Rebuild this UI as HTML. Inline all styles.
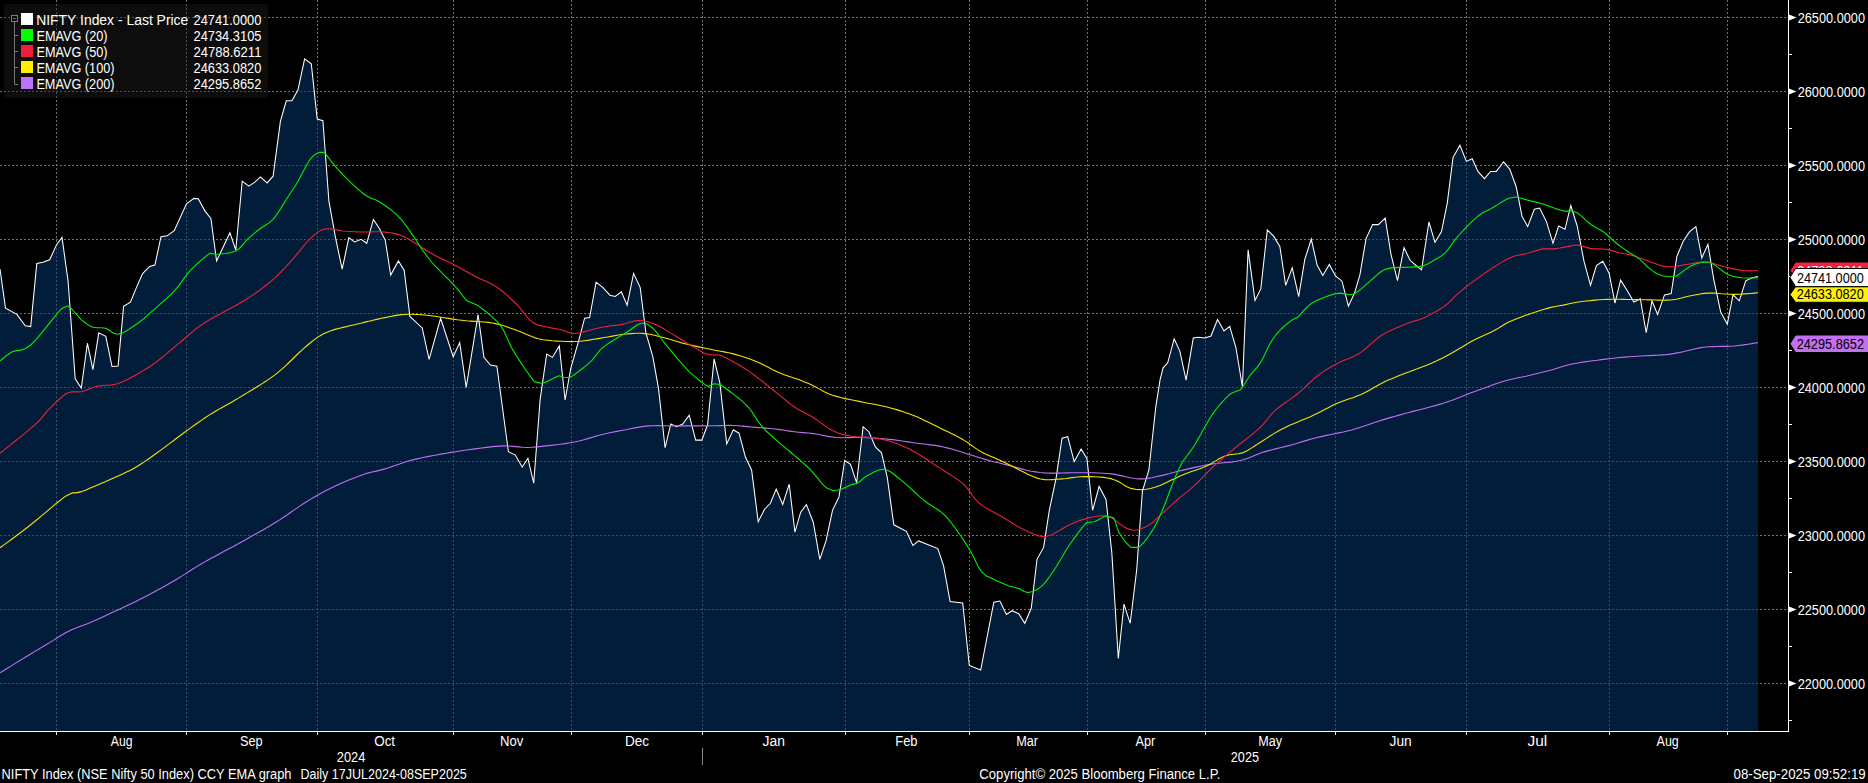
<!DOCTYPE html><html><head><meta charset="utf-8"><style>
html,body{margin:0;padding:0;background:#000;width:1868px;height:783px;overflow:hidden}
svg{display:block}
text{font-family:"Liberation Sans", sans-serif;font-size:14px;fill:#fff}
</style></head><body>
<svg width="1868" height="783" viewBox="0 0 1868 783">
<rect x="0" y="0" width="1868" height="783" fill="#000"/>
<line x1="56.5" y1="0" x2="56.5" y2="731" stroke="#727272" stroke-width="1" stroke-dasharray="2 2"/>
<line x1="186.5" y1="0" x2="186.5" y2="731" stroke="#727272" stroke-width="1" stroke-dasharray="2 2"/>
<line x1="317.5" y1="0" x2="317.5" y2="731" stroke="#727272" stroke-width="1" stroke-dasharray="2 2"/>
<line x1="453.5" y1="0" x2="453.5" y2="731" stroke="#727272" stroke-width="1" stroke-dasharray="2 2"/>
<line x1="571.5" y1="0" x2="571.5" y2="731" stroke="#727272" stroke-width="1" stroke-dasharray="2 2"/>
<line x1="702.5" y1="0" x2="702.5" y2="731" stroke="#727272" stroke-width="1" stroke-dasharray="2 2"/>
<line x1="845.5" y1="0" x2="845.5" y2="731" stroke="#727272" stroke-width="1" stroke-dasharray="2 2"/>
<line x1="969.5" y1="0" x2="969.5" y2="731" stroke="#727272" stroke-width="1" stroke-dasharray="2 2"/>
<line x1="1087.5" y1="0" x2="1087.5" y2="731" stroke="#727272" stroke-width="1" stroke-dasharray="2 2"/>
<line x1="1205.5" y1="0" x2="1205.5" y2="731" stroke="#727272" stroke-width="1" stroke-dasharray="2 2"/>
<line x1="1335.5" y1="0" x2="1335.5" y2="731" stroke="#727272" stroke-width="1" stroke-dasharray="2 2"/>
<line x1="1466.5" y1="0" x2="1466.5" y2="731" stroke="#727272" stroke-width="1" stroke-dasharray="2 2"/>
<line x1="1609.5" y1="0" x2="1609.5" y2="731" stroke="#727272" stroke-width="1" stroke-dasharray="2 2"/>
<line x1="1727.5" y1="0" x2="1727.5" y2="731" stroke="#727272" stroke-width="1" stroke-dasharray="2 2"/>
<line x1="0" y1="17.5" x2="1788" y2="17.5" stroke="#727272" stroke-width="1" stroke-dasharray="2 2"/>
<line x1="0" y1="91.5" x2="1788" y2="91.5" stroke="#727272" stroke-width="1" stroke-dasharray="2 2"/>
<line x1="0" y1="165.5" x2="1788" y2="165.5" stroke="#727272" stroke-width="1" stroke-dasharray="2 2"/>
<line x1="0" y1="239.5" x2="1788" y2="239.5" stroke="#727272" stroke-width="1" stroke-dasharray="2 2"/>
<line x1="0" y1="313.5" x2="1788" y2="313.5" stroke="#727272" stroke-width="1" stroke-dasharray="2 2"/>
<line x1="0" y1="387.5" x2="1788" y2="387.5" stroke="#727272" stroke-width="1" stroke-dasharray="2 2"/>
<line x1="0" y1="461.5" x2="1788" y2="461.5" stroke="#727272" stroke-width="1" stroke-dasharray="2 2"/>
<line x1="0" y1="535.5" x2="1788" y2="535.5" stroke="#727272" stroke-width="1" stroke-dasharray="2 2"/>
<line x1="0" y1="609.5" x2="1788" y2="609.5" stroke="#727272" stroke-width="1" stroke-dasharray="2 2"/>
<line x1="0" y1="683.5" x2="1788" y2="683.5" stroke="#727272" stroke-width="1" stroke-dasharray="2 2"/>
<polygon points="0.0,731.0 0.0,269.0 5.5,308.2 16.9,314.4 25.2,325.7 30.7,326.6 36.8,263.4 42.9,262.2 49.7,259.8 56.7,244.4 62.0,237.4 68.1,281.2 75.2,378.8 81.3,388.0 87.4,343.2 92.9,369.6 98.8,332.8 105.8,336.4 112.0,366.5 118.1,365.9 123.6,306.4 130.4,302.1 136.5,287.4 142.6,273.6 149.7,266.5 154.9,265.0 161.0,236.7 167.2,235.8 174.2,230.6 186.5,203.9 193.9,198.4 198.3,198.8 205.0,211.1 210.9,218.4 216.6,260.9 223.2,247.0 229.9,232.7 235.8,250.0 242.2,181.2 248.8,186.2 254.8,182.2 260.4,176.9 267.1,182.9 273.1,176.2 280.4,121.4 286.3,100.8 292.0,100.8 298.0,89.8 304.6,58.9 311.3,63.9 317.2,119.1 322.9,120.7 328.9,201.1 335.5,237.7 342.2,269.2 348.8,237.7 354.5,242.0 361.1,239.3 366.7,243.3 373.4,219.4 379.4,228.4 385.3,240.3 390.7,275.1 398.4,260.9 404.2,270.5 409.9,316.4 422.2,327.9 429.1,359.3 440.6,318.4 453.2,356.7 459.7,342.5 466.2,387.3 478.1,314.5 483.9,357.4 490.4,365.1 496.9,366.2 508.4,451.7 515.3,455.1 522.2,467.0 527.9,458.2 533.7,483.1 540.2,398.8 546.7,354.0 552.4,357.4 559.3,345.9 565.1,400.0 570.8,368.2 578.5,341.3 584.6,318.2 589.6,317.5 596.1,282.2 603.0,287.6 609.9,295.2 615.2,296.4 621.4,291.8 627.1,305.2 633.6,273.4 640.2,287.6 645.9,332.8 652.8,356.6 658.5,388.4 665.1,447.7 670.8,424.0 676.6,426.7 682.7,424.0 689.2,415.2 695.7,440.1 701.8,440.1 707.6,424.8 714.1,358.9 719.8,382.6 726.7,443.9 733.3,429.7 739.0,433.2 745.5,457.3 751.6,470.0 758.2,521.7 764.7,509.0 770.4,503.3 776.2,489.1 782.7,504.5 789.2,484.2 794.9,532.1 800.7,512.2 806.4,504.5 813.3,522.5 819.8,559.3 826.0,540.9 832.5,510.3 839.0,496.9 844.7,460.5 850.5,464.3 856.6,482.7 863.1,426.7 868.9,431.7 875.4,447.0 881.5,452.8 887.3,477.7 893.8,524.8 906.4,531.3 912.9,545.5 918.7,540.9 937.8,548.6 943.6,565.8 950.1,601.5 962.7,603.0 969.3,665.4 980.7,670.0 993.8,602.2 999.9,601.1 1006.4,614.5 1012.1,610.7 1018.7,613.7 1024.8,623.3 1031.3,608.0 1037.0,559.3 1043.6,547.4 1049.3,510.3 1056.2,477.7 1062.0,438.2 1067.7,436.7 1074.2,461.6 1081.1,449.0 1086.9,458.5 1092.6,510.3 1099.1,486.5 1106.0,499.5 1111.8,552.4 1118.3,658.5 1124.0,604.1 1130.2,623.3 1136.7,569.7 1142.4,491.1 1148.9,470.0 1155.8,406.8 1160.0,380.1 1163.1,367.8 1167.7,362.8 1174.2,338.7 1179.9,351.3 1186.1,380.1 1193.3,337.9 1198.3,337.2 1204.8,337.9 1211.0,336.0 1217.5,319.5 1224.0,331.0 1229.7,326.4 1235.9,347.5 1242.4,386.6 1248.1,249.8 1255.0,300.4 1260.8,288.9 1267.3,229.9 1273.8,236.4 1279.9,246.7 1285.7,285.4 1292.2,267.8 1298.7,296.6 1304.8,259.4 1311.3,239.1 1317.1,265.1 1322.8,275.5 1329.3,264.4 1335.5,275.9 1342.0,281.2 1348.4,306.2 1354.6,292.8 1359.9,274.8 1366.1,238.4 1372.6,224.6 1378.3,224.6 1385.2,218.1 1391.0,254.5 1397.5,280.6 1404.0,247.6 1410.1,260.3 1416.6,266.0 1421.6,269.8 1428.9,222.0 1435.0,242.3 1441.5,231.5 1447.3,202.8 1453.0,157.6 1459.9,145.3 1466.4,161.4 1472.2,158.7 1477.9,171.4 1484.4,178.7 1490.6,171.4 1496.3,171.4 1503.6,161.8 1509.7,169.1 1516.2,186.7 1522.0,216.2 1527.7,226.6 1534.3,209.3 1539.7,208.1 1546.6,222.1 1553.0,243.3 1558.6,226.0 1565.0,229.3 1570.8,205.5 1577.2,226.0 1584.1,261.7 1590.5,285.4 1596.4,265.5 1602.8,261.2 1609.1,273.2 1615.0,303.1 1620.6,280.1 1627.0,290.3 1633.9,302.0 1640.3,298.7 1646.2,332.7 1652.0,300.8 1657.6,314.5 1664.5,294.9 1671.2,293.6 1676.8,256.6 1683.2,241.3 1689.6,231.6 1695.9,226.7 1701.8,257.9 1707.9,244.3 1713.8,279.6 1720.7,312.0 1727.3,324.2 1733.0,294.9 1739.3,300.8 1745.7,280.8 1752.1,277.8 1758.0,276.5 1758.0,731.0" fill="rgb(2,53,105)" fill-opacity="0.55"/>
<rect x="4" y="4" width="264" height="94" rx="2" ry="2" fill="rgb(32,32,32)" fill-opacity="0.42"/>
<polyline points="0.0,269.0 5.5,308.2 16.9,314.4 25.2,325.7 30.7,326.6 36.8,263.4 42.9,262.2 49.7,259.8 56.7,244.4 62.0,237.4 68.1,281.2 75.2,378.8 81.3,388.0 87.4,343.2 92.9,369.6 98.8,332.8 105.8,336.4 112.0,366.5 118.1,365.9 123.6,306.4 130.4,302.1 136.5,287.4 142.6,273.6 149.7,266.5 154.9,265.0 161.0,236.7 167.2,235.8 174.2,230.6 186.5,203.9 193.9,198.4 198.3,198.8 205.0,211.1 210.9,218.4 216.6,260.9 223.2,247.0 229.9,232.7 235.8,250.0 242.2,181.2 248.8,186.2 254.8,182.2 260.4,176.9 267.1,182.9 273.1,176.2 280.4,121.4 286.3,100.8 292.0,100.8 298.0,89.8 304.6,58.9 311.3,63.9 317.2,119.1 322.9,120.7 328.9,201.1 335.5,237.7 342.2,269.2 348.8,237.7 354.5,242.0 361.1,239.3 366.7,243.3 373.4,219.4 379.4,228.4 385.3,240.3 390.7,275.1 398.4,260.9 404.2,270.5 409.9,316.4 422.2,327.9 429.1,359.3 440.6,318.4 453.2,356.7 459.7,342.5 466.2,387.3 478.1,314.5 483.9,357.4 490.4,365.1 496.9,366.2 508.4,451.7 515.3,455.1 522.2,467.0 527.9,458.2 533.7,483.1 540.2,398.8 546.7,354.0 552.4,357.4 559.3,345.9 565.1,400.0 570.8,368.2 578.5,341.3 584.6,318.2 589.6,317.5 596.1,282.2 603.0,287.6 609.9,295.2 615.2,296.4 621.4,291.8 627.1,305.2 633.6,273.4 640.2,287.6 645.9,332.8 652.8,356.6 658.5,388.4 665.1,447.7 670.8,424.0 676.6,426.7 682.7,424.0 689.2,415.2 695.7,440.1 701.8,440.1 707.6,424.8 714.1,358.9 719.8,382.6 726.7,443.9 733.3,429.7 739.0,433.2 745.5,457.3 751.6,470.0 758.2,521.7 764.7,509.0 770.4,503.3 776.2,489.1 782.7,504.5 789.2,484.2 794.9,532.1 800.7,512.2 806.4,504.5 813.3,522.5 819.8,559.3 826.0,540.9 832.5,510.3 839.0,496.9 844.7,460.5 850.5,464.3 856.6,482.7 863.1,426.7 868.9,431.7 875.4,447.0 881.5,452.8 887.3,477.7 893.8,524.8 906.4,531.3 912.9,545.5 918.7,540.9 937.8,548.6 943.6,565.8 950.1,601.5 962.7,603.0 969.3,665.4 980.7,670.0 993.8,602.2 999.9,601.1 1006.4,614.5 1012.1,610.7 1018.7,613.7 1024.8,623.3 1031.3,608.0 1037.0,559.3 1043.6,547.4 1049.3,510.3 1056.2,477.7 1062.0,438.2 1067.7,436.7 1074.2,461.6 1081.1,449.0 1086.9,458.5 1092.6,510.3 1099.1,486.5 1106.0,499.5 1111.8,552.4 1118.3,658.5 1124.0,604.1 1130.2,623.3 1136.7,569.7 1142.4,491.1 1148.9,470.0 1155.8,406.8 1160.0,380.1 1163.1,367.8 1167.7,362.8 1174.2,338.7 1179.9,351.3 1186.1,380.1 1193.3,337.9 1198.3,337.2 1204.8,337.9 1211.0,336.0 1217.5,319.5 1224.0,331.0 1229.7,326.4 1235.9,347.5 1242.4,386.6 1248.1,249.8 1255.0,300.4 1260.8,288.9 1267.3,229.9 1273.8,236.4 1279.9,246.7 1285.7,285.4 1292.2,267.8 1298.7,296.6 1304.8,259.4 1311.3,239.1 1317.1,265.1 1322.8,275.5 1329.3,264.4 1335.5,275.9 1342.0,281.2 1348.4,306.2 1354.6,292.8 1359.9,274.8 1366.1,238.4 1372.6,224.6 1378.3,224.6 1385.2,218.1 1391.0,254.5 1397.5,280.6 1404.0,247.6 1410.1,260.3 1416.6,266.0 1421.6,269.8 1428.9,222.0 1435.0,242.3 1441.5,231.5 1447.3,202.8 1453.0,157.6 1459.9,145.3 1466.4,161.4 1472.2,158.7 1477.9,171.4 1484.4,178.7 1490.6,171.4 1496.3,171.4 1503.6,161.8 1509.7,169.1 1516.2,186.7 1522.0,216.2 1527.7,226.6 1534.3,209.3 1539.7,208.1 1546.6,222.1 1553.0,243.3 1558.6,226.0 1565.0,229.3 1570.8,205.5 1577.2,226.0 1584.1,261.7 1590.5,285.4 1596.4,265.5 1602.8,261.2 1609.1,273.2 1615.0,303.1 1620.6,280.1 1627.0,290.3 1633.9,302.0 1640.3,298.7 1646.2,332.7 1652.0,300.8 1657.6,314.5 1664.5,294.9 1671.2,293.6 1676.8,256.6 1683.2,241.3 1689.6,231.6 1695.9,226.7 1701.8,257.9 1707.9,244.3 1713.8,279.6 1720.7,312.0 1727.3,324.2 1733.0,294.9 1739.3,300.8 1745.7,280.8 1752.1,277.8 1758.0,276.5" fill="none" stroke="#fff" stroke-width="1.05" stroke-linejoin="miter"/>
<polyline points="0.0,672.9 2.2,671.5 5.1,669.7 8.6,667.5 12.5,665.1 16.5,662.6 20.4,660.2 23.8,658.1 27.4,656.0 31.1,653.7 34.9,651.4 38.7,649.2 42.4,646.9 46.0,644.8 50.0,642.4 53.9,639.9 57.7,637.5 61.4,635.2 65.2,633.0 69.0,631.0 72.8,629.2 76.6,627.7 80.3,626.3 84.1,624.9 88.0,623.4 92.0,621.8 95.5,620.3 99.1,618.7 102.8,617.0 106.4,615.3 110.1,613.6 113.8,611.8 117.5,610.1 121.1,608.4 124.6,606.8 128.2,605.1 131.7,603.4 135.3,601.7 139.1,599.8 143.0,597.8 146.6,595.9 150.3,594.0 154.1,591.9 158.0,589.8 162.0,587.7 165.9,585.5 169.8,583.2 173.7,581.0 177.5,578.7 181.2,576.4 185.0,574.1 188.7,571.7 192.4,569.3 196.3,566.9 200.2,564.5 204.3,562.1 207.7,560.2 211.1,558.3 214.7,556.4 218.2,554.4 221.9,552.5 225.5,550.6 229.2,548.6 232.9,546.7 236.5,544.7 240.1,542.7 243.7,540.7 247.3,538.7 251.0,536.6 254.7,534.6 258.3,532.5 262.0,530.4 265.5,528.4 269.1,526.3 272.5,524.3 275.9,522.2 279.6,519.9 283.1,517.5 286.7,515.2 290.1,512.8 293.5,510.4 296.9,508.1 300.1,505.9 303.3,503.8 306.5,501.8 310.4,499.4 314.0,497.2 317.6,495.2 321.0,493.2 324.6,491.3 328.2,489.4 332.1,487.5 335.7,485.8 339.6,484.0 343.6,482.3 347.6,480.6 351.6,478.9 355.5,477.4 359.2,476.0 362.7,474.7 367.6,473.1 372.0,472.0 376.2,471.1 380.4,470.1 385.0,468.9 388.5,467.8 392.1,466.5 395.8,465.2 399.5,463.9 403.5,462.6 407.5,461.3 411.8,460.1 415.8,459.1 420.0,458.2 424.3,457.3 428.8,456.4 433.3,455.5 437.8,454.7 442.1,453.9 446.3,453.2 450.9,452.4 455.5,451.7 459.9,451.0 464.3,450.3 468.6,449.7 472.9,449.1 477.0,448.6 481.7,448.0 486.4,447.4 490.9,446.9 495.3,446.4 499.6,446.1 503.8,445.9 508.7,446.0 513.5,446.4 518.1,446.9 522.5,447.3 526.8,447.5 531.9,447.3 536.6,446.9 541.3,446.4 546.0,445.9 550.9,445.4 555.8,444.8 560.6,444.2 565.1,443.6 570.1,442.8 574.6,442.0 580.0,440.8 584.1,439.7 588.6,438.4 593.4,436.9 598.3,435.5 603.0,434.3 607.6,433.2 612.2,432.3 616.8,431.4 621.4,430.5 626.0,429.7 630.5,428.8 634.8,427.9 639.3,427.1 643.9,426.4 649.0,425.9 653.0,425.7 657.3,425.6 661.8,425.6 666.4,425.7 670.9,425.8 675.4,425.9 679.6,425.9 684.3,425.9 688.8,425.9 693.2,425.9 697.6,425.9 702.0,425.9 706.4,425.9 710.9,425.8 715.5,425.7 720.1,425.6 724.6,425.5 729.0,425.4 733.3,425.5 738.2,425.7 742.9,426.1 747.5,426.6 751.9,427.0 756.2,427.4 761.2,427.8 765.8,428.1 770.4,428.5 775.0,429.0 779.8,429.6 784.6,430.3 789.4,431.1 794.2,431.7 798.9,432.2 803.5,432.6 808.3,433.0 813.3,433.6 817.6,434.3 822.0,435.2 826.6,436.1 831.4,436.9 836.3,437.5 840.5,437.7 844.9,437.7 849.5,437.6 854.0,437.5 858.6,437.4 863.1,437.5 867.6,437.7 872.1,437.9 876.6,438.2 881.0,438.6 885.5,439.0 890.0,439.4 894.5,439.9 898.9,440.5 903.4,441.2 907.9,441.9 912.3,442.5 916.8,443.2 921.3,443.8 925.7,444.3 930.2,444.9 934.7,445.4 939.2,446.1 943.6,447.0 948.1,448.1 952.7,449.3 957.3,450.7 961.7,452.1 966.0,453.5 970.0,454.7 974.2,456.0 978.0,457.2 981.6,458.3 985.2,459.4 989.2,460.5 993.6,461.7 998.3,462.8 1003.0,464.0 1007.7,465.1 1012.1,466.2 1017.2,467.6 1021.9,468.9 1026.6,470.2 1031.3,471.2 1035.7,471.9 1039.9,472.5 1044.6,472.9 1050.5,473.1 1054.1,473.1 1058.2,473.1 1062.6,473.0 1067.2,472.9 1071.9,472.8 1076.5,472.7 1080.9,472.7 1084.9,472.7 1089.8,472.8 1094.4,472.8 1098.8,473.0 1103.1,473.2 1107.4,473.5 1111.8,473.9 1116.3,474.6 1120.9,475.6 1125.5,476.7 1130.1,477.7 1134.4,478.5 1138.6,478.9 1143.2,478.9 1147.5,478.4 1151.6,477.7 1155.7,476.8 1160.0,475.9 1164.4,474.9 1168.9,473.8 1173.4,472.5 1178.1,471.3 1183.0,470.1 1187.2,469.1 1191.5,468.1 1195.9,467.1 1200.4,466.2 1205.1,465.2 1209.8,464.4 1214.0,463.8 1218.5,463.3 1223.1,462.8 1227.7,462.4 1232.2,461.9 1236.5,461.3 1240.5,460.5 1244.7,459.3 1248.6,458.0 1252.2,456.5 1255.8,455.0 1259.4,453.5 1263.4,452.1 1267.7,450.9 1272.1,449.7 1276.6,448.6 1281.2,447.5 1285.8,446.4 1290.3,445.2 1294.7,444.0 1299.0,442.7 1303.2,441.4 1307.6,440.1 1312.2,438.8 1317.1,437.5 1321.1,436.6 1325.3,435.6 1329.8,434.7 1334.3,433.8 1338.8,432.9 1343.3,432.0 1347.5,431.0 1351.5,430.0 1355.7,428.8 1359.7,427.5 1363.5,426.3 1367.2,425.0 1370.9,423.7 1374.5,422.4 1378.3,421.2 1382.6,419.9 1386.8,418.6 1391.0,417.4 1395.3,416.2 1400.0,414.9 1405.1,413.5 1408.9,412.5 1413.0,411.4 1417.3,410.3 1421.8,409.2 1426.3,408.0 1430.8,406.8 1435.2,405.6 1439.4,404.4 1443.4,403.2 1447.6,401.8 1451.6,400.4 1455.5,398.9 1459.2,397.5 1462.9,396.0 1466.6,394.5 1470.3,393.1 1474.1,391.7 1478.0,390.3 1481.9,388.9 1485.9,387.4 1489.8,386.0 1493.7,384.6 1497.5,383.3 1501.2,382.1 1504.8,381.0 1509.4,379.8 1513.8,378.7 1518.0,377.8 1522.2,377.0 1526.1,376.2 1530.0,375.3 1534.3,374.3 1538.4,373.3 1542.3,372.3 1546.2,371.3 1550.4,370.2 1554.6,369.0 1558.8,367.7 1563.2,366.3 1567.9,365.0 1573.4,363.8 1576.9,363.2 1580.6,362.5 1584.6,361.9 1588.8,361.3 1593.1,360.7 1597.3,360.2 1601.4,359.6 1605.4,359.1 1609.1,358.7 1613.5,358.2 1617.5,357.8 1621.4,357.4 1625.2,357.1 1629.0,356.8 1633.0,356.5 1637.2,356.2 1641.1,356.0 1645.1,355.8 1649.3,355.6 1653.5,355.4 1657.7,355.2 1662.0,354.9 1666.2,354.6 1670.4,354.1 1674.6,353.4 1678.8,352.6 1683.0,351.7 1687.2,350.7 1691.3,349.7 1695.5,348.7 1699.6,347.9 1703.6,347.3 1708.2,346.8 1712.7,346.6 1717.3,346.5 1721.7,346.4 1726.0,346.4 1730.2,346.2 1734.2,346.0 1738.8,345.5 1743.5,344.9 1748.0,344.2 1752.1,343.6 1755.5,343.0 1758.0,342.6" fill="none" stroke="#c070f0" stroke-width="1.1" stroke-linejoin="round"/>
<polyline points="0.0,547.8 2.0,546.3 4.7,544.4 7.8,542.1 11.3,539.5 15.0,536.7 19.0,533.8 23.0,530.8 26.9,527.7 30.7,524.8 33.8,522.3 37.2,519.5 40.6,516.6 44.2,513.6 47.7,510.6 51.3,507.6 54.7,504.7 58.0,502.0 61.1,499.6 63.9,497.4 66.4,495.7 72.3,492.9 75.8,492.9 81.7,491.6 84.9,490.4 88.6,488.8 92.7,487.1 97.1,485.2 101.5,483.3 105.9,481.4 110.2,479.5 114.1,477.7 117.5,476.2 122.5,474.0 126.5,472.1 130.1,470.4 133.7,468.4 137.9,466.0 141.3,463.8 145.0,461.4 148.8,458.7 152.6,456.0 156.4,453.2 160.1,450.6 163.5,448.1 167.1,445.4 170.5,442.9 173.7,440.5 176.9,438.0 180.3,435.5 183.9,432.8 187.2,430.4 190.7,427.9 194.2,425.3 197.9,422.7 201.7,420.1 205.5,417.5 209.5,414.9 213.1,412.7 216.7,410.6 220.4,408.4 224.2,406.3 228.0,404.2 232.0,401.9 236.0,399.6 240.1,397.1 243.5,395.0 247.0,392.9 250.6,390.7 254.3,388.5 258.0,386.2 261.7,383.9 265.4,381.5 269.0,379.1 272.5,376.6 275.9,374.1 279.2,371.4 282.5,368.6 285.8,365.6 289.0,362.5 292.2,359.5 295.2,356.5 298.2,353.5 301.1,350.8 303.9,348.3 306.5,346.0 310.4,342.8 313.7,340.1 316.7,337.9 319.8,335.9 323.1,334.0 327.0,332.2 330.9,330.7 335.1,329.4 339.6,328.2 344.2,327.1 348.8,326.0 353.3,325.0 357.6,324.0 361.8,323.0 365.9,321.9 370.0,321.0 374.0,320.0 377.9,319.1 381.5,318.3 385.0,317.6 390.3,316.5 394.9,315.6 399.3,314.9 404.2,314.5 408.4,314.3 412.5,314.3 416.9,314.5 421.7,314.8 427.1,315.3 430.9,315.7 435.0,316.3 439.4,317.0 443.9,317.7 448.4,318.4 453.0,319.1 457.4,319.8 461.6,320.3 466.3,320.8 470.9,321.1 475.4,321.4 479.9,321.7 484.2,322.0 488.4,322.4 492.3,323.0 497.4,324.1 502.1,325.3 506.5,326.7 510.8,328.2 515.3,329.8 519.1,331.2 523.0,332.8 526.8,334.5 530.6,336.1 534.5,337.6 538.3,338.7 543.0,339.7 547.7,340.3 552.3,340.8 556.9,341.1 561.2,341.3 566.1,341.5 570.6,341.6 575.1,341.5 580.0,341.2 584.3,340.7 588.9,340.1 593.6,339.3 598.3,338.6 603.0,337.8 607.7,337.0 612.4,336.1 617.1,335.3 621.6,334.5 626.0,334.0 631.0,333.6 635.8,333.3 640.4,333.3 645.1,333.6 649.8,334.3 654.5,335.3 659.2,336.5 664.3,337.8 668.7,339.0 673.2,340.3 677.9,341.7 682.6,343.1 687.3,344.3 691.9,345.4 696.5,346.4 701.1,347.4 705.7,348.3 710.3,349.3 714.9,350.2 719.5,351.0 724.1,351.9 728.7,352.8 733.3,353.9 737.1,354.9 740.9,356.1 744.7,357.3 748.5,358.6 752.3,360.0 756.2,361.5 760.2,363.2 764.2,365.2 768.3,367.3 772.3,369.4 776.2,371.3 780.0,373.0 784.3,374.7 788.6,376.2 792.6,377.5 796.4,378.8 799.9,380.0 804.6,381.9 808.6,383.6 813.3,385.7 816.6,387.4 820.0,389.4 823.7,391.5 827.8,393.5 832.5,395.3 836.3,396.4 840.6,397.5 845.2,398.6 849.9,399.5 854.6,400.5 859.0,401.4 863.1,402.2 868.1,403.2 872.7,404.0 877.0,404.8 881.4,405.7 886.1,406.8 889.7,407.8 893.5,408.8 897.3,409.9 901.2,411.1 905.1,412.4 909.0,413.7 912.9,415.2 916.8,416.8 920.7,418.6 924.6,420.4 928.5,422.3 932.4,424.2 936.2,426.1 939.8,427.9 943.9,429.9 947.9,431.8 951.8,433.7 955.5,435.5 959.2,437.4 962.7,439.4 966.7,441.9 970.3,444.5 973.9,447.1 977.5,449.6 981.5,452.0 985.0,453.8 988.7,455.5 992.5,457.1 996.4,458.8 1000.4,460.5 1004.5,462.4 1008.2,464.2 1012.3,466.3 1016.4,468.4 1020.6,470.6 1024.5,472.6 1028.1,474.4 1031.3,475.8 1036.6,477.9 1040.4,479.0 1044.7,479.6 1048.6,479.8 1052.8,479.6 1057.2,479.3 1062.0,478.9 1066.2,478.5 1070.6,477.9 1075.2,477.3 1080.0,476.8 1084.9,476.6 1089.2,476.6 1093.9,476.8 1098.6,477.0 1103.3,477.4 1107.7,478.0 1111.8,478.9 1116.2,480.5 1120.2,482.6 1123.9,484.9 1127.4,486.9 1130.9,488.4 1136.3,489.5 1141.4,489.6 1146.2,489.2 1150.6,488.5 1154.8,487.3 1160.0,485.4 1163.3,484.0 1167.0,482.3 1170.9,480.3 1175.0,478.4 1179.1,476.4 1183.0,474.7 1186.9,473.2 1190.8,471.8 1194.7,470.5 1198.6,469.2 1202.4,467.8 1206.0,466.3 1210.1,464.2 1214.0,461.9 1217.8,459.6 1221.5,457.5 1225.1,455.9 1229.6,454.7 1234.1,454.2 1238.4,453.8 1242.4,452.9 1246.7,451.0 1250.5,448.6 1255.8,445.2 1258.9,443.3 1262.4,441.0 1266.1,438.6 1270.1,436.0 1274.3,433.4 1278.4,431.0 1282.6,428.7 1286.3,426.9 1290.2,425.1 1294.2,423.4 1298.2,421.7 1302.2,420.0 1306.1,418.4 1309.8,416.9 1313.3,415.3 1317.5,413.2 1321.4,411.2 1325.1,409.3 1328.7,407.4 1332.4,405.6 1336.2,403.8 1340.3,402.1 1344.4,400.6 1348.6,399.1 1352.9,397.7 1357.0,396.1 1361.1,394.4 1365.1,392.5 1369.0,390.4 1372.8,388.2 1376.7,386.0 1380.4,384.0 1384.1,382.1 1388.3,380.1 1392.4,378.4 1396.4,376.8 1400.6,375.1 1405.1,373.3 1408.7,371.9 1412.6,370.4 1416.6,369.0 1420.7,367.4 1424.7,365.9 1428.5,364.4 1432.0,363.0 1436.3,361.1 1440.0,359.3 1443.6,357.5 1447.2,355.6 1451.1,353.4 1454.8,351.3 1458.6,349.0 1462.6,346.7 1466.6,344.3 1470.4,342.0 1474.1,340.0 1478.2,338.0 1482.1,336.2 1485.8,334.6 1489.5,332.9 1493.3,331.1 1496.9,329.1 1500.3,327.0 1503.8,324.8 1507.7,322.6 1512.4,320.4 1516.0,318.9 1520.0,317.4 1524.4,315.8 1528.9,314.2 1533.5,312.7 1537.8,311.3 1541.8,310.0 1545.3,308.9 1550.9,307.4 1555.3,306.5 1559.3,305.8 1563.2,305.1 1568.1,304.0 1572.7,303.0 1578.5,302.0 1582.1,301.5 1586.1,301.0 1590.5,300.6 1594.9,300.1 1599.5,299.8 1604.0,299.5 1607.8,299.4 1611.5,299.3 1615.3,299.3 1619.2,299.3 1623.3,299.4 1627.5,299.5 1632.1,299.5 1636.0,299.6 1640.3,299.7 1644.9,299.8 1649.5,299.9 1654.2,300.0 1658.8,300.1 1663.1,300.2 1667.0,300.1 1670.4,300.0 1676.3,299.3 1680.5,298.3 1684.1,297.2 1688.3,296.2 1692.1,295.5 1696.0,294.7 1700.1,294.0 1704.3,293.4 1708.7,293.1 1712.7,293.1 1716.9,293.3 1721.2,293.7 1725.6,294.0 1730.0,294.3 1734.2,294.4 1739.4,294.2 1745.0,293.9 1750.3,293.5 1754.8,293.1 1758.0,292.8" fill="none" stroke="#f4e400" stroke-width="1.1" stroke-linejoin="round"/>
<polyline points="0.0,453.3 2.0,451.7 4.8,449.4 8.2,446.8 11.8,443.8 15.6,440.8 19.3,437.9 22.7,435.1 25.5,432.8 30.1,428.9 33.9,425.6 37.1,422.7 39.9,420.0 42.6,416.6 46.0,412.4 48.6,409.7 51.9,406.3 55.6,402.6 59.5,399.0 63.2,395.8 66.4,393.5 71.7,391.8 76.4,391.9 81.3,391.7 85.3,390.5 89.5,388.9 93.8,387.3 98.2,386.1 102.7,385.5 107.3,385.2 112.0,384.9 116.6,384.0 120.2,382.8 123.8,381.3 127.4,379.5 131.1,377.5 135.0,375.4 138.4,373.5 141.9,371.4 145.4,369.3 149.1,367.0 152.7,364.5 156.4,361.9 159.5,359.5 162.6,357.0 165.8,354.4 168.9,351.7 172.1,349.0 175.4,346.2 178.8,343.4 181.7,341.0 184.6,338.5 187.5,336.0 190.4,333.5 193.5,330.9 196.8,328.3 200.4,325.7 204.3,323.0 207.5,321.0 211.0,318.9 214.7,316.8 218.7,314.7 222.7,312.5 226.7,310.3 230.8,308.2 234.7,306.1 238.4,304.0 242.0,302.0 245.2,300.0 249.2,297.4 253.0,294.9 256.4,292.5 259.7,290.2 262.8,287.8 265.7,285.5 268.6,283.2 271.4,280.9 274.9,277.9 278.0,274.9 280.9,272.0 283.8,269.0 286.6,265.9 289.7,262.6 292.5,259.4 295.5,255.9 298.5,252.3 301.4,248.6 304.3,245.1 307.1,242.0 309.6,239.3 313.4,235.7 316.8,232.9 319.8,230.9 322.9,229.4 329.0,228.7 334.5,229.4 338.1,230.1 342.8,231.0 346.0,231.3 349.9,231.5 354.1,231.7 358.5,231.9 362.8,232.0 367.1,232.0 371.7,231.9 376.2,231.8 380.7,231.8 385.0,232.1 389.8,232.7 394.3,233.4 398.9,234.6 404.2,236.7 407.7,238.5 411.4,240.7 415.4,243.2 419.4,245.9 423.4,248.5 427.3,251.0 431.0,253.2 435.1,255.4 439.0,257.4 442.9,259.3 446.6,261.1 450.3,262.8 454.0,264.7 458.3,267.0 462.5,269.4 466.7,271.7 470.8,274.0 475.0,276.2 479.2,278.3 483.5,280.2 487.8,282.1 492.0,284.2 496.1,286.6 499.4,289.0 502.7,291.5 505.9,294.2 509.1,297.1 512.2,300.0 515.3,303.0 518.3,306.2 521.3,309.7 524.3,313.3 527.1,316.8 529.9,319.8 532.5,322.2 537.2,324.9 541.4,325.9 545.9,326.8 551.0,327.9 556.3,328.8 561.2,329.8 565.5,331.2 569.3,332.7 572.7,333.7 580.0,332.8 583.7,331.9 588.3,330.7 593.3,329.3 598.4,328.0 603.0,327.0 608.1,326.2 612.9,325.6 617.5,325.1 622.1,324.4 626.6,323.3 630.9,322.0 635.1,320.9 639.4,320.5 643.6,320.8 647.6,321.7 651.9,323.1 656.6,325.1 660.1,326.8 663.7,328.8 667.5,331.1 671.4,333.6 675.5,336.0 679.6,338.5 683.3,340.7 687.3,343.1 691.4,345.7 695.5,348.1 699.5,350.4 703.1,352.4 706.4,353.9 712.0,355.0 716.2,354.7 721.8,355.8 725.0,357.2 728.6,359.0 732.5,361.2 736.5,363.5 740.6,366.0 744.7,368.5 748.6,371.1 752.0,373.4 755.4,376.0 758.8,378.6 762.3,381.3 765.6,384.0 768.9,386.6 772.0,389.2 775.0,391.5 778.6,394.4 781.9,397.1 785.1,399.8 788.1,402.2 791.1,404.6 794.2,406.8 798.0,409.2 801.8,411.3 805.7,413.3 809.5,415.3 813.3,417.5 817.1,420.1 821.0,422.9 824.8,425.8 828.7,428.4 832.5,430.6 837.3,432.7 842.0,434.2 846.8,435.4 851.6,436.3 856.4,436.9 861.2,437.0 866.0,437.1 870.8,437.5 875.5,438.1 880.2,438.9 884.9,439.9 890.0,441.3 893.6,442.5 897.2,443.8 901.0,445.3 904.8,446.9 908.8,448.8 912.9,450.9 916.6,453.0 920.4,455.3 924.4,457.8 928.3,460.5 932.3,463.1 936.1,465.7 939.8,468.1 944.0,470.8 948.1,473.3 952.2,475.9 956.0,478.4 959.5,480.9 962.7,483.4 966.6,487.4 969.8,491.6 972.4,495.5 975.0,498.8 978.9,503.0 983.4,506.4 987.1,508.6 991.4,511.0 996.0,513.4 1000.7,516.0 1004.4,518.2 1008.2,520.6 1012.1,523.0 1015.9,525.4 1019.8,527.5 1023.8,529.5 1027.8,531.5 1031.9,533.3 1035.7,534.9 1039.0,535.9 1044.8,536.7 1050.5,535.2 1053.8,533.7 1057.6,531.6 1061.6,529.2 1065.7,526.8 1069.6,524.8 1073.4,523.1 1077.3,521.5 1081.1,520.1 1085.0,518.9 1088.8,517.9 1093.8,516.8 1098.8,516.0 1103.7,515.7 1107.9,516.0 1112.2,517.9 1115.7,520.9 1119.4,523.7 1123.7,526.4 1128.1,528.9 1132.8,530.2 1136.6,530.0 1140.5,529.0 1144.4,527.5 1148.2,525.6 1151.6,523.3 1154.9,520.4 1158.1,517.3 1161.6,514.1 1164.6,511.5 1167.6,508.7 1170.7,505.8 1173.9,502.9 1177.2,500.0 1180.5,497.2 1183.9,494.4 1187.4,491.6 1190.9,488.6 1194.5,485.4 1197.6,482.5 1200.7,479.3 1203.8,476.1 1207.0,472.8 1210.3,469.5 1213.6,466.3 1217.0,463.3 1220.3,460.3 1223.8,457.4 1227.3,454.4 1230.9,451.4 1234.7,448.3 1237.7,445.9 1240.9,443.3 1244.2,440.7 1247.5,438.1 1250.8,435.5 1254.0,432.9 1256.9,430.4 1259.6,428.0 1263.2,424.3 1266.0,420.9 1268.7,417.5 1271.5,414.1 1274.9,410.7 1277.8,408.2 1281.0,405.8 1284.4,403.3 1287.9,400.9 1291.4,398.4 1294.7,396.0 1297.9,393.5 1301.3,390.6 1304.6,387.6 1307.7,384.5 1310.8,381.6 1313.9,378.8 1317.1,376.2 1320.9,373.4 1324.6,370.9 1328.3,368.5 1332.1,366.3 1336.2,364.0 1339.8,362.2 1343.6,360.6 1347.5,359.1 1351.4,357.5 1355.3,355.6 1359.2,353.4 1362.5,351.1 1365.7,348.5 1368.9,345.7 1372.1,342.8 1375.4,340.0 1378.7,337.3 1382.1,335.0 1386.2,332.6 1390.6,330.4 1395.0,328.5 1399.3,326.7 1403.4,325.0 1407.1,323.5 1411.9,321.8 1415.9,320.6 1419.9,319.5 1424.3,317.7 1427.7,316.0 1431.3,314.1 1435.1,312.0 1438.8,309.8 1442.3,307.6 1445.4,305.5 1449.1,302.4 1452.1,299.4 1455.1,296.2 1458.8,292.8 1461.8,290.3 1464.9,287.8 1468.3,285.1 1471.9,282.4 1475.8,279.6 1479.8,276.7 1483.1,274.4 1486.7,272.0 1490.5,269.4 1494.4,266.8 1498.3,264.4 1502.0,262.1 1505.5,260.0 1508.6,258.4 1513.7,256.3 1517.9,255.3 1521.8,254.6 1525.8,253.8 1530.2,252.5 1534.7,251.1 1538.9,249.8 1542.8,248.9 1548.9,248.7 1554.3,248.9 1559.9,248.0 1565.7,246.9 1569.9,246.1 1574.3,245.3 1578.5,245.1 1584.0,246.6 1590.0,248.4 1593.9,248.8 1598.2,248.9 1602.6,249.0 1606.6,249.4 1611.1,250.4 1615.1,251.6 1619.4,252.8 1624.3,253.8 1629.5,254.8 1634.7,256.1 1638.5,257.4 1642.2,258.8 1646.0,260.3 1650.0,261.7 1654.2,263.2 1658.6,264.8 1663.2,266.1 1667.9,266.8 1671.9,266.8 1676.0,266.3 1680.2,265.6 1684.3,264.8 1688.3,264.2 1693.0,263.4 1697.4,262.5 1701.8,261.8 1706.2,261.7 1710.6,262.5 1714.9,263.9 1719.4,265.4 1724.0,266.8 1728.0,267.7 1732.3,268.6 1736.6,269.4 1740.7,270.1 1744.4,270.6 1749.9,270.9 1754.7,270.7 1758.0,270.6" fill="none" stroke="#ec203c" stroke-width="1.1" stroke-linejoin="round"/>
<polyline points="0.0,361.0 3.0,358.5 7.3,355.0 12.3,351.8 16.2,350.6 20.4,350.1 25.1,348.7 30.7,345.0 33.1,342.7 35.8,339.8 38.8,336.3 41.9,332.6 45.1,328.7 48.3,324.7 51.4,320.8 54.3,317.1 57.0,313.8 59.4,311.0 61.3,308.8 68.1,305.8 71.0,308.2 74.4,312.0 78.0,316.2 81.3,319.6 85.2,322.8 89.0,325.4 92.9,327.2 97.1,327.8 101.5,327.7 105.8,328.2 109.7,330.5 113.6,333.3 118.1,334.3 121.4,333.4 125.0,331.7 128.8,329.4 132.7,326.8 136.5,324.2 140.2,321.5 143.8,318.6 147.4,315.4 151.1,312.2 154.9,308.8 158.2,305.9 161.6,302.9 165.1,299.9 168.5,296.7 171.7,293.6 174.8,290.4 177.6,287.2 180.0,283.9 182.4,280.6 184.8,277.3 187.2,274.1 190.0,270.9 193.2,267.6 196.8,264.2 200.5,260.8 204.1,257.7 207.3,255.1 209.9,253.3 216.6,254.3 220.7,254.0 225.8,253.5 231.2,252.6 235.8,251.0 239.3,248.5 242.3,245.3 245.1,241.9 248.1,238.7 251.4,235.8 254.8,232.9 258.2,230.2 261.4,227.7 265.4,225.2 269.1,222.9 273.1,219.4 275.7,216.1 278.3,212.2 281.1,207.9 283.7,203.6 286.3,199.5 288.7,195.8 291.0,192.3 293.3,188.8 295.6,185.2 298.0,181.2 300.1,177.4 302.4,173.1 304.7,168.8 306.9,164.5 309.2,160.8 311.3,157.9 315.4,154.2 319.3,152.4 322.9,152.3 325.8,154.1 328.3,157.4 331.2,161.3 333.6,164.2 336.2,167.3 339.1,170.7 342.8,174.6 345.4,177.2 348.4,180.1 351.6,183.3 355.0,186.4 358.3,189.5 361.5,192.2 364.4,194.5 368.8,197.2 372.7,198.8 376.6,200.3 381.0,202.8 384.2,205.0 387.5,207.3 391.0,209.9 394.5,212.9 398.3,216.4 402.2,220.7 404.4,223.5 406.8,226.6 409.2,230.0 411.6,233.6 414.2,237.4 416.7,241.3 419.2,245.1 421.8,248.9 424.3,252.5 426.7,255.9 429.1,259.0 432.0,262.5 435.0,265.8 438.0,268.9 440.9,271.9 443.8,274.8 446.6,277.5 449.3,280.1 451.7,282.6 454.0,285.0 457.5,289.1 460.4,292.7 462.9,296.0 465.1,298.8 467.4,301.1 471.6,302.8 477.0,304.9 479.7,306.9 482.9,309.3 486.4,312.0 490.1,315.1 493.7,318.3 497.1,321.6 500.0,324.9 502.4,328.3 504.3,331.8 506.0,335.4 507.6,339.1 509.3,343.0 511.2,346.9 513.4,350.9 515.5,354.3 517.8,358.0 520.3,361.9 522.9,365.8 525.6,369.7 528.1,373.3 530.5,376.6 532.6,379.4 534.4,381.6 542.1,383.5 545.9,382.0 550.6,379.7 555.3,377.3 559.3,375.8 563.9,377.2 568.9,377.7 571.8,376.2 575.2,374.0 579.0,371.3 582.8,368.3 586.4,365.4 589.6,362.7 592.6,359.6 595.0,356.6 597.3,353.5 599.8,350.4 603.0,347.4 606.4,344.9 610.2,342.3 614.4,339.7 618.5,337.3 622.5,334.9 626.0,332.8 630.5,329.7 634.4,326.8 637.9,324.5 641.3,323.2 645.3,323.3 649.0,325.1 652.8,328.2 655.3,330.8 657.8,333.9 660.5,337.5 663.2,341.3 666.2,345.1 668.9,348.4 671.9,351.9 674.9,355.6 677.9,359.2 680.8,362.5 683.4,365.4 686.7,368.9 689.4,371.8 692.1,374.4 695.0,376.9 698.4,379.7 702.1,382.5 705.5,384.9 708.4,386.4 714.1,383.8 719.8,384.5 722.6,386.2 725.9,388.5 729.6,391.2 733.3,394.1 736.2,396.4 739.3,398.8 742.4,401.4 745.5,404.3 748.6,407.5 751.0,410.5 753.3,413.9 755.6,417.4 758.0,421.1 760.7,424.9 763.9,428.6 766.7,431.5 769.9,434.4 773.3,437.5 776.9,440.6 780.4,443.6 783.9,446.6 787.3,449.4 790.3,452.0 793.9,455.2 797.3,458.0 800.5,460.7 803.5,463.3 806.5,466.0 809.5,468.9 812.5,472.2 815.6,475.7 818.6,479.4 821.5,482.8 824.2,485.8 826.7,488.0 832.7,490.5 838.2,490.0 842.8,488.6 847.6,486.4 851.6,484.6 857.4,483.4 860.0,481.3 863.1,478.5 867.0,475.8 870.8,473.7 875.1,471.4 879.7,469.7 884.2,469.3 887.5,470.2 890.8,472.0 894.1,474.5 897.6,477.3 901.4,480.4 904.4,482.9 907.7,485.7 911.1,488.8 914.5,492.0 917.9,495.1 921.3,498.1 924.4,500.7 928.5,503.7 932.5,506.3 936.4,508.7 940.1,511.2 943.6,514.1 946.4,517.0 949.1,520.1 951.8,523.5 954.3,526.8 956.6,530.1 958.9,533.3 961.4,536.8 963.6,540.1 965.7,543.4 967.8,546.8 970.0,550.5 971.9,554.0 973.9,557.8 975.8,561.7 977.8,565.5 979.7,568.9 981.5,571.6 985.9,575.7 991.1,578.1 995.0,580.0 999.6,582.1 1004.2,584.1 1008.3,585.7 1014.6,587.5 1019.8,588.8 1023.5,591.2 1027.5,592.6 1031.5,591.8 1036.2,590.0 1040.9,586.9 1043.5,584.3 1046.2,581.2 1048.8,577.7 1051.5,573.8 1054.3,569.7 1056.4,566.5 1058.5,563.1 1060.6,559.4 1062.8,555.7 1065.0,551.9 1067.3,548.3 1069.6,544.8 1072.1,541.3 1074.7,537.6 1077.4,533.9 1080.1,530.4 1082.6,527.2 1084.9,524.5 1086.9,522.5 1094.5,521.8 1098.2,520.0 1102.3,517.6 1106.0,516.0 1113.7,517.9 1115.1,520.8 1116.3,524.8 1117.6,529.2 1119.4,533.3 1122.0,537.2 1125.0,541.3 1128.2,544.9 1130.9,547.4 1138.6,547.4 1141.2,545.2 1144.1,542.1 1147.1,538.3 1150.1,534.0 1151.9,531.1 1153.7,528.2 1155.5,525.0 1157.3,521.4 1159.3,517.2 1161.6,512.2 1163.0,509.0 1164.5,505.3 1166.0,501.2 1167.6,497.0 1169.3,492.5 1171.0,488.0 1172.7,483.6 1174.4,479.3 1176.1,475.2 1177.7,471.5 1179.2,468.2 1181.8,463.3 1184.3,459.3 1186.8,456.0 1189.2,452.8 1191.8,449.3 1194.5,445.2 1196.5,441.9 1198.5,438.3 1200.7,434.5 1202.8,430.6 1205.0,426.7 1207.2,422.8 1209.4,419.1 1211.5,415.7 1213.6,412.6 1216.7,408.5 1219.8,404.7 1222.8,401.3 1225.8,398.2 1228.5,395.6 1230.9,393.5 1236.3,391.2 1240.5,389.7 1243.3,386.2 1245.9,381.7 1248.9,377.0 1251.6,373.7 1254.5,370.4 1257.5,366.9 1260.4,362.8 1262.6,358.9 1264.8,354.5 1266.9,349.9 1269.0,345.6 1271.1,341.8 1274.3,337.0 1277.4,333.1 1280.7,329.5 1284.6,325.9 1288.7,322.5 1292.2,319.9 1297.9,316.9 1300.6,314.1 1303.9,310.4 1307.5,306.6 1311.3,303.4 1315.5,301.0 1320.1,298.9 1324.6,297.2 1328.6,295.8 1334.8,293.9 1340.1,293.1 1345.1,293.9 1349.6,294.8 1353.1,294.3 1357.2,292.1 1360.1,289.8 1363.5,286.9 1367.1,283.7 1370.7,280.6 1374.2,277.5 1377.8,274.3 1381.6,271.3 1386.0,269.1 1390.3,268.1 1395.1,267.6 1400.1,267.4 1404.9,267.4 1409.0,267.2 1414.3,266.9 1418.6,266.6 1422.4,266.0 1427.2,264.2 1432.0,261.4 1435.1,259.6 1438.6,257.7 1442.1,255.4 1445.4,252.6 1448.2,249.4 1450.7,245.7 1453.4,241.7 1456.9,237.3 1459.5,234.5 1462.4,231.3 1465.6,228.0 1468.9,224.6 1472.2,221.4 1475.2,218.6 1477.9,216.2 1482.8,212.7 1486.8,210.8 1491.3,208.5 1494.7,206.5 1498.4,204.1 1502.2,201.8 1505.7,199.7 1508.6,198.2 1516.2,197.0 1521.4,198.2 1527.7,200.1 1531.5,201.1 1535.9,202.1 1540.2,203.2 1544.0,204.3 1548.2,205.8 1551.9,207.3 1555.5,208.6 1561.0,210.3 1565.7,211.4 1570.8,210.6 1577.2,212.7 1580.2,215.1 1583.9,218.4 1587.7,221.8 1591.3,224.7 1595.7,227.5 1599.9,229.7 1604.0,232.3 1607.8,235.5 1611.5,239.0 1615.5,242.5 1618.9,245.2 1622.6,247.9 1626.3,250.5 1629.6,252.8 1635.1,256.1 1639.8,259.1 1643.6,262.9 1647.4,266.8 1650.6,269.4 1654.1,271.9 1657.6,273.9 1662.8,275.7 1667.9,276.5 1672.4,276.7 1676.8,275.7 1681.2,272.8 1685.7,269.4 1689.9,266.5 1694.7,264.2 1699.1,263.0 1704.1,262.2 1708.7,262.2 1714.1,264.6 1718.9,268.1 1723.2,271.5 1727.9,274.5 1732.1,276.0 1736.9,277.1 1741.9,277.8 1746.2,278.0 1750.8,278.0 1755.1,277.9 1758.0,277.8" fill="none" stroke="#00f000" stroke-width="1.1" stroke-linejoin="round"/>
<line x1="1788.5" y1="0" x2="1788.5" y2="732" stroke="#fff" stroke-width="1"/>
<line x1="0" y1="731.5" x2="1789" y2="731.5" stroke="#fff" stroke-width="1"/>
<line x1="56.5" y1="731" x2="56.5" y2="735" stroke="#fff" stroke-width="1"/>
<line x1="186.5" y1="731" x2="186.5" y2="735" stroke="#fff" stroke-width="1"/>
<line x1="317.5" y1="731" x2="317.5" y2="735" stroke="#fff" stroke-width="1"/>
<line x1="453.5" y1="731" x2="453.5" y2="735" stroke="#fff" stroke-width="1"/>
<line x1="571.5" y1="731" x2="571.5" y2="735" stroke="#fff" stroke-width="1"/>
<line x1="702.5" y1="731" x2="702.5" y2="735" stroke="#fff" stroke-width="1"/>
<line x1="845.5" y1="731" x2="845.5" y2="735" stroke="#fff" stroke-width="1"/>
<line x1="969.5" y1="731" x2="969.5" y2="735" stroke="#fff" stroke-width="1"/>
<line x1="1087.5" y1="731" x2="1087.5" y2="735" stroke="#fff" stroke-width="1"/>
<line x1="1205.5" y1="731" x2="1205.5" y2="735" stroke="#fff" stroke-width="1"/>
<line x1="1335.5" y1="731" x2="1335.5" y2="735" stroke="#fff" stroke-width="1"/>
<line x1="1466.5" y1="731" x2="1466.5" y2="735" stroke="#fff" stroke-width="1"/>
<line x1="1609.5" y1="731" x2="1609.5" y2="735" stroke="#fff" stroke-width="1"/>
<line x1="1727.5" y1="731" x2="1727.5" y2="735" stroke="#fff" stroke-width="1"/>
<polygon points="1789,14.5 1796.5,17.5 1789,20.5" fill="#fff"/>
<line x1="1788" y1="54.5" x2="1792" y2="54.5" stroke="#fff" stroke-width="1"/>
<polygon points="1789,88.5 1796.5,91.5 1789,94.5" fill="#fff"/>
<line x1="1788" y1="128.5" x2="1792" y2="128.5" stroke="#fff" stroke-width="1"/>
<polygon points="1789,162.5 1796.5,165.5 1789,168.5" fill="#fff"/>
<line x1="1788" y1="202.5" x2="1792" y2="202.5" stroke="#fff" stroke-width="1"/>
<polygon points="1789,236.5 1796.5,239.5 1789,242.5" fill="#fff"/>
<line x1="1788" y1="276.5" x2="1792" y2="276.5" stroke="#fff" stroke-width="1"/>
<polygon points="1789,310.5 1796.5,313.5 1789,316.5" fill="#fff"/>
<line x1="1788" y1="350.5" x2="1792" y2="350.5" stroke="#fff" stroke-width="1"/>
<polygon points="1789,384.5 1796.5,387.5 1789,390.5" fill="#fff"/>
<line x1="1788" y1="424.5" x2="1792" y2="424.5" stroke="#fff" stroke-width="1"/>
<polygon points="1789,458.5 1796.5,461.5 1789,464.5" fill="#fff"/>
<line x1="1788" y1="498.5" x2="1792" y2="498.5" stroke="#fff" stroke-width="1"/>
<polygon points="1789,532.5 1796.5,535.5 1789,538.5" fill="#fff"/>
<line x1="1788" y1="572.5" x2="1792" y2="572.5" stroke="#fff" stroke-width="1"/>
<polygon points="1789,606.5 1796.5,609.5 1789,612.5" fill="#fff"/>
<line x1="1788" y1="646.5" x2="1792" y2="646.5" stroke="#fff" stroke-width="1"/>
<polygon points="1789,680.5 1796.5,683.5 1789,686.5" fill="#fff"/>
<line x1="1788" y1="720.5" x2="1792" y2="720.5" stroke="#fff" stroke-width="1"/>
<polygon points="1790,270.5 1795.5,262 1870,262 1870,279 1795.5,279" fill="#f5203e" stroke="#000" stroke-width="1"/>
<text x="1796.88" y="276.3" textLength="66.87" lengthAdjust="spacingAndGlyphs" style="fill:#fff">24788.6211</text>
<polygon points="1790,277.5 1795.5,268.5 1870,268.5 1870,286.5 1795.5,286.5" fill="#fff" stroke="#000" stroke-width="1"/>
<text x="1796.88" y="283.3" textLength="66.87" lengthAdjust="spacingAndGlyphs" style="fill:#000">24741.0000</text>
<polygon points="1790,294.55 1795.5,286.8 1870,286.8 1870,302.3 1795.5,302.3" fill="#fff200" stroke="#000" stroke-width="1"/>
<text x="1796.66" y="299.3" textLength="67.05" lengthAdjust="spacingAndGlyphs" style="fill:#000">24633.0820</text>
<polygon points="1790,343.75 1795.5,335 1870,335 1870,352.5 1795.5,352.5" fill="#c070f0" stroke="#000" stroke-width="1"/>
<text x="1796.66" y="349.3" textLength="67.32" lengthAdjust="spacingAndGlyphs" style="fill:#000">24295.8652</text>
<line x1="702.5" y1="748" x2="702.5" y2="765" stroke="#888" stroke-width="1"/>
<rect x="21" y="13" width="12" height="12" fill="#ffffff"/>
<rect x="21" y="29" width="12" height="12" fill="#00ff00"/>
<rect x="21" y="45" width="12" height="12" fill="#f0203c"/>
<rect x="21" y="61" width="12" height="12" fill="#ffee00"/>
<rect x="21" y="77" width="12" height="12" fill="#c070ff"/>
<rect x="11.5" y="15.5" width="6" height="6" fill="#0d0d0d" stroke="#7a7a7a" stroke-width="1"/>
<line x1="13" y1="18.5" x2="16" y2="18.5" stroke="#6a6a6a" stroke-width="1"/>
<polyline points="14.5,22 14.5,84.5 18,84.5" fill="none" stroke="#777" stroke-width="1"/>
<line x1="14.5" y1="35.5" x2="18" y2="35.5" stroke="#777" stroke-width="1"/>
<line x1="14.5" y1="51.5" x2="18" y2="51.5" stroke="#777" stroke-width="1"/>
<line x1="14.5" y1="67.5" x2="18" y2="67.5" stroke="#777" stroke-width="1"/>
<text x="36.21" y="25" textLength="152.12" lengthAdjust="spacingAndGlyphs" style="fill:#fff">NIFTY Index - Last Price</text>
<text x="193.51" y="25" textLength="67.90" lengthAdjust="spacingAndGlyphs" style="fill:#fff">24741.0000</text>
<text x="36.40" y="41" textLength="71.21" lengthAdjust="spacingAndGlyphs" style="fill:#fff">EMAVG (20)</text>
<text x="193.51" y="41" textLength="67.96" lengthAdjust="spacingAndGlyphs" style="fill:#fff">24734.3105</text>
<text x="36.40" y="57" textLength="71.21" lengthAdjust="spacingAndGlyphs" style="fill:#fff">EMAVG (50)</text>
<text x="193.48" y="57" textLength="67.95" lengthAdjust="spacingAndGlyphs" style="fill:#fff">24788.6211</text>
<text x="36.40" y="73" textLength="78.12" lengthAdjust="spacingAndGlyphs" style="fill:#fff">EMAVG (100)</text>
<text x="193.51" y="73" textLength="67.90" lengthAdjust="spacingAndGlyphs" style="fill:#fff">24633.0820</text>
<text x="36.40" y="89" textLength="78.12" lengthAdjust="spacingAndGlyphs" style="fill:#fff">EMAVG (200)</text>
<text x="193.51" y="89" textLength="67.89" lengthAdjust="spacingAndGlyphs" style="fill:#fff">24295.8652</text>
<text x="1797.66" y="23" textLength="67.33" lengthAdjust="spacingAndGlyphs" style="fill:#fff">26500.0000</text>
<text x="1797.66" y="97" textLength="67.33" lengthAdjust="spacingAndGlyphs" style="fill:#fff">26000.0000</text>
<text x="1797.66" y="171" textLength="67.33" lengthAdjust="spacingAndGlyphs" style="fill:#fff">25500.0000</text>
<text x="1797.66" y="245" textLength="67.33" lengthAdjust="spacingAndGlyphs" style="fill:#fff">25000.0000</text>
<text x="1797.66" y="319" textLength="67.33" lengthAdjust="spacingAndGlyphs" style="fill:#fff">24500.0000</text>
<text x="1797.66" y="393" textLength="67.33" lengthAdjust="spacingAndGlyphs" style="fill:#fff">24000.0000</text>
<text x="1797.66" y="467" textLength="67.33" lengthAdjust="spacingAndGlyphs" style="fill:#fff">23500.0000</text>
<text x="1797.66" y="541" textLength="67.33" lengthAdjust="spacingAndGlyphs" style="fill:#fff">23000.0000</text>
<text x="1797.66" y="615" textLength="67.33" lengthAdjust="spacingAndGlyphs" style="fill:#fff">22500.0000</text>
<text x="1797.66" y="689" textLength="67.33" lengthAdjust="spacingAndGlyphs" style="fill:#fff">22000.0000</text>
<text x="110.82" y="746" textLength="21.70" lengthAdjust="spacingAndGlyphs" style="fill:#fff">Aug</text>
<text x="239.91" y="746" textLength="22.62" lengthAdjust="spacingAndGlyphs" style="fill:#fff">Sep</text>
<text x="374.24" y="746" textLength="20.84" lengthAdjust="spacingAndGlyphs" style="fill:#fff">Oct</text>
<text x="499.99" y="746" textLength="23.31" lengthAdjust="spacingAndGlyphs" style="fill:#fff">Nov</text>
<text x="624.97" y="746" textLength="24.08" lengthAdjust="spacingAndGlyphs" style="fill:#fff">Dec</text>
<text x="762.57" y="746" textLength="22.37" lengthAdjust="spacingAndGlyphs" style="fill:#fff">Jan</text>
<text x="895.26" y="746" textLength="22.30" lengthAdjust="spacingAndGlyphs" style="fill:#fff">Feb</text>
<text x="1016.14" y="746" textLength="21.82" lengthAdjust="spacingAndGlyphs" style="fill:#fff">Mar</text>
<text x="1135.54" y="746" textLength="19.69" lengthAdjust="spacingAndGlyphs" style="fill:#fff">Apr</text>
<text x="1258.35" y="746" textLength="23.79" lengthAdjust="spacingAndGlyphs" style="fill:#fff">May</text>
<text x="1389.53" y="746" textLength="22.14" lengthAdjust="spacingAndGlyphs" style="fill:#fff">Jun</text>
<text x="1527.45" y="746" textLength="19.76" lengthAdjust="spacingAndGlyphs" style="fill:#fff">Jul</text>
<text x="1656.62" y="746" textLength="22.16" lengthAdjust="spacingAndGlyphs" style="fill:#fff">Aug</text>
<text x="336.82" y="762" textLength="28.63" lengthAdjust="spacingAndGlyphs" style="fill:#fff">2024</text>
<text x="1230.83" y="762" textLength="28.12" lengthAdjust="spacingAndGlyphs" style="fill:#fff">2025</text>
<text x="1.56" y="779" textLength="289.92" lengthAdjust="spacingAndGlyphs" style="fill:#fff">NIFTY Index (NSE Nifty 50 Index) CCY EMA graph</text>
<text x="300.56" y="779" textLength="166.25" lengthAdjust="spacingAndGlyphs" style="fill:#fff">Daily 17JUL2024-08SEP2025</text>
<text x="979.36" y="779" textLength="240.98" lengthAdjust="spacingAndGlyphs" style="fill:#fff">Copyright© 2025 Bloomberg Finance L.P.</text>
<text x="1733.55" y="779" textLength="132.15" lengthAdjust="spacingAndGlyphs" style="fill:#fff">08-Sep-2025 09:52:19</text>
</svg></body></html>
